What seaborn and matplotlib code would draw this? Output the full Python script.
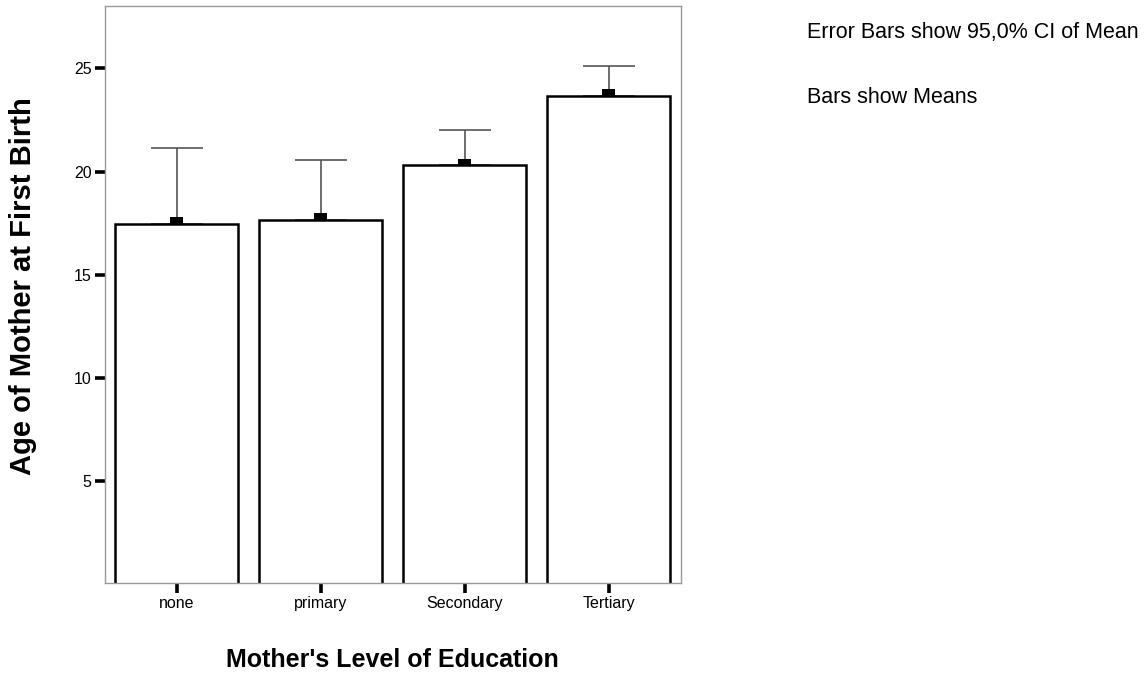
import numpy as np
import pandas as pd
import matplotlib
matplotlib.use("Agg")
import matplotlib.pyplot as plt
import seaborn as sns

# values
levels = ["none", "primary", "Secondary", "Tertiary"]
means = [17.47, 17.68, 20.31, 23.67]
ci_upper = [21.16, 20.57, 22.03, 25.12]

sns.set_theme(style="white")
plt.rcParams["font.family"] = ["Liberation Sans", "DejaVu Sans"]
plt.rcParams["text.color"] = "black"
plt.rcParams["axes.labelcolor"] = "black"
plt.rcParams["xtick.color"] = "black"
plt.rcParams["ytick.color"] = "black"

df = pd.DataFrame({"level": levels, "age": means})

fig = plt.figure(figsize=(11.47, 6.75), dpi=100)
ax = fig.add_axes([0.0913, 0.1367, 0.5022, 0.854])

# error bars first (upper half only shows above the white bars)
x = np.arange(len(levels))
up = np.array(ci_upper) - np.array(means)
ax.errorbar(x, means, yerr=[np.zeros(len(x)), up], fmt="none",
            ecolor="#555555", elinewidth=1.2, capsize=19, capthick=1.2, zorder=1)

sns.barplot(data=df, x="level", y="age", color="white", edgecolor="black",
            linewidth=1.8, width=0.856, errorbar=None, saturation=1, ax=ax, zorder=2)

# small black mean markers on top of each bar
ax.bar(x, [0.32] * len(x), bottom=means, width=0.092, color="black",
       linewidth=0, zorder=3)

ax.set_xlim(-0.5, 3.5)
ax.set_ylim(0.1, 28)
ax.set_yticks([5, 10, 15, 20, 25])
ax.tick_params(axis="both", which="major", direction="out", length=7.5,
               width=2.6, color="black", labelsize=11.5, pad=2,
               left=True, bottom=True)
for s in ax.spines.values():
    s.set_color("#999999")
    s.set_linewidth(1.0)

ax.set_xlabel("Mother's Level of Education", fontsize=18, fontweight="bold", labelpad=27)
ax.set_ylabel("Age of Mother at First Birth", fontsize=21, fontweight="bold")
ax.yaxis.set_label_coords(-0.117, 0.515)

fig.text(0.7036, 0.952, "Error Bars show 95,0% CI of Mean", fontsize=15.5, va="center", ha="left")
fig.text(0.7036, 0.855, "Bars show Means", fontsize=15.5, va="center", ha="left")

fig.savefig("out.png", dpi=100, facecolor="white")
